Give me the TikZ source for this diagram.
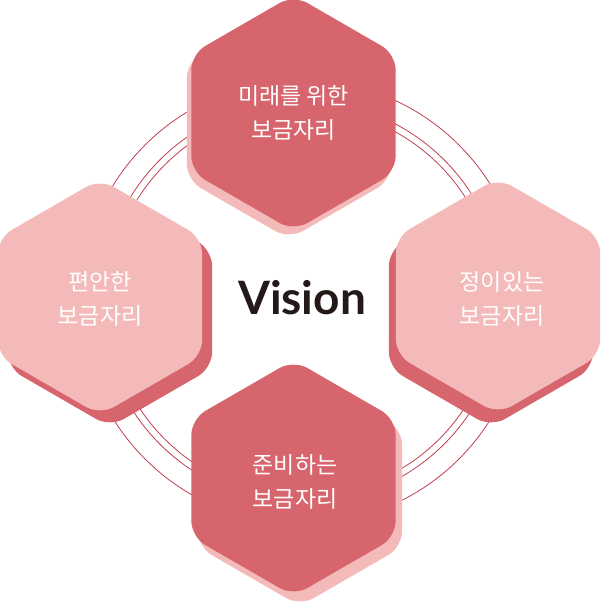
\documentclass[tikz,border=0pt]{standalone}
\usepackage{fontspec}
\setmainfont{Noto Sans CJK KR}
\newfontfamily\vis{Lato}
\definecolor{darkr}{HTML}{D6656D}
\definecolor{lightr}{HTML}{F4BABA}
\definecolor{ringc}{HTML}{C03E4E}
\newcommand\myhex[3]{\fill[#3,rounded corners=16pt,shift={(#1,#2)}] (90:118)--(150:118)--(210:118)--(270:118)--(330:118)--(30:118)--cycle;}
\tikzset{lbl/.style={text=white,align=center,font=\fontsize{23}{34}\selectfont},
ring/.style={draw=ringc,line width=0.8pt}}
\begin{document}
\begin{tikzpicture}[x=1pt,y=-1pt]
\useasboundingbox (0,0) rectangle (600,609);
\coordinate (c) at (302,302);
\draw[ring] (c) circle (194);
\draw[ring] (c) circle (201);
\draw[ring] (c) circle (222);
% top
\myhex{289}{121}{lightr}
\myhex{293.5}{113}{darkr}
% left
\myhex{110}{309}{darkr}
\myhex{100}{297}{lightr}
% right
\myhex{491}{309}{darkr}
\myhex{498}{296}{lightr}
% bottom
\myhex{300}{488}{lightr}
\myhex{293.5}{478}{darkr}
\node[lbl] (t) at (293.5,113) {미래를 위한\\보금자리};
\node[lbl] (l) at (100,299) {편안한\\보금자리};
\node[lbl] (r) at (502,299) {정이있는\\보금자리};
\node[lbl] (b) at (295,482) {준비하는\\보금자리};
\node[font=\vis\bfseries\fontsize{46}{46}\selectfont,text={rgb,255:red,35;green,25;blue,25}] (v) at (302,298) {Vision};
\end{tikzpicture}
\end{document}
